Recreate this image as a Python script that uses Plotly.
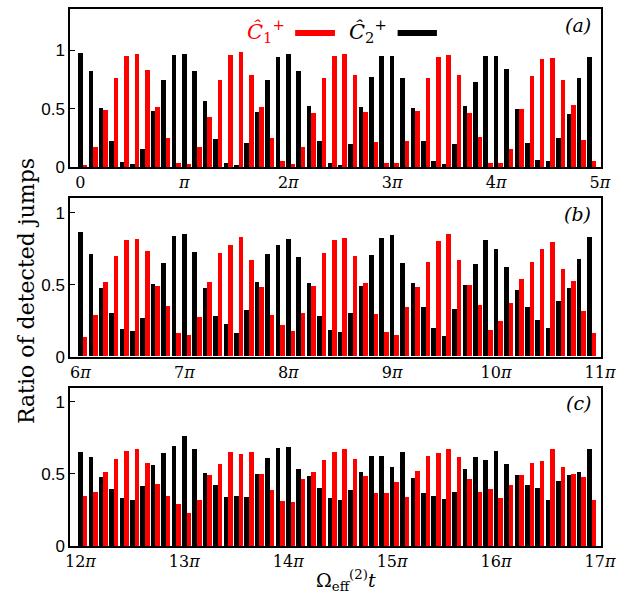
import plotly.graph_objects as go
from plotly.subplots import make_subplots

# time axis in units of pi; 50 samples per panel, step pi/10
starts = [0, 6, 12]
n_pts = 50

# panel (a)
c2_a = [0.977, 0.824, 0.504, 0.227, 0.042, 0.025, 0.159, 0.479, 0.742, 0.958,
        0.966, 0.819, 0.567, 0.244, 0.034, 0.020, 0.204, 0.476, 0.742, 0.941,
        0.963, 0.819, 0.524, 0.224, 0.037, 0.023, 0.200, 0.518, 0.770, 0.952,
        0.952, 0.762, 0.507, 0.221, 0.054, 0.028, 0.201, 0.524, 0.728, 0.952,
        0.952, 0.836, 0.496, 0.212, 0.065, 0.057, 0.249, 0.459, 0.759, 0.943]
c1_a = [0.017, 0.173, 0.493, 0.765, 0.952, 0.966, 0.833, 0.516, 0.252, 0.034,
        0.025, 0.170, 0.428, 0.748, 0.958, 0.980, 0.788, 0.516, 0.252, 0.051,
        0.028, 0.176, 0.467, 0.765, 0.952, 0.966, 0.790, 0.473, 0.218, 0.040,
        0.037, 0.227, 0.484, 0.765, 0.938, 0.958, 0.788, 0.467, 0.261, 0.040,
        0.037, 0.153, 0.496, 0.779, 0.924, 0.935, 0.742, 0.533, 0.235, 0.051]

# panel (b)
c2_b = [0.864, 0.708, 0.478, 0.301, 0.191, 0.179, 0.267, 0.503, 0.648, 0.837,
        0.848, 0.724, 0.478, 0.280, 0.225, 0.166, 0.324, 0.515, 0.710, 0.777,
        0.816, 0.690, 0.508, 0.280, 0.186, 0.170, 0.301, 0.487, 0.706, 0.825,
        0.846, 0.651, 0.513, 0.340, 0.200, 0.145, 0.331, 0.494, 0.644, 0.811,
        0.749, 0.623, 0.462, 0.343, 0.253, 0.200, 0.386, 0.474, 0.678, 0.830]
c1_b = [0.133, 0.290, 0.520, 0.694, 0.805, 0.816, 0.731, 0.492, 0.349, 0.161,
        0.147, 0.271, 0.520, 0.717, 0.772, 0.830, 0.671, 0.480, 0.287, 0.218,
        0.177, 0.303, 0.487, 0.715, 0.807, 0.823, 0.694, 0.508, 0.292, 0.170,
        0.147, 0.345, 0.483, 0.657, 0.798, 0.851, 0.667, 0.499, 0.354, 0.184,
        0.248, 0.370, 0.536, 0.655, 0.745, 0.795, 0.609, 0.524, 0.317, 0.166]

# panel (c)
c2_c = [0.654, 0.618, 0.484, 0.396, 0.336, 0.323, 0.417, 0.567, 0.652, 0.700,
        0.765, 0.675, 0.507, 0.426, 0.341, 0.353, 0.343, 0.500, 0.611, 0.682,
        0.687, 0.535, 0.486, 0.403, 0.339, 0.325, 0.392, 0.514, 0.627, 0.629,
        0.551, 0.654, 0.475, 0.369, 0.348, 0.327, 0.376, 0.535, 0.620, 0.599,
        0.661, 0.569, 0.498, 0.424, 0.408, 0.323, 0.452, 0.495, 0.518, 0.675]
c1_c = [0.348, 0.380, 0.514, 0.604, 0.661, 0.675, 0.578, 0.431, 0.348, 0.297,
        0.233, 0.323, 0.493, 0.571, 0.657, 0.645, 0.654, 0.500, 0.389, 0.316,
        0.309, 0.465, 0.514, 0.597, 0.659, 0.673, 0.606, 0.486, 0.371, 0.369,
        0.447, 0.343, 0.525, 0.631, 0.652, 0.673, 0.622, 0.465, 0.378, 0.401,
        0.336, 0.429, 0.498, 0.576, 0.592, 0.673, 0.548, 0.500, 0.482, 0.323]

c1_sets = [c1_a, c1_b, c1_c]
c2_sets = [c2_a, c2_b, c2_c]
panel_tags = ["(a)", "(b)", "(c)"]

serif = "DejaVu Serif"
sans = "Liberation Sans"
bw = 0.044
off = 0.044

fig = make_subplots(rows=3, cols=1, vertical_spacing=31 / 539)

for i in range(3):
    t = [starts[i] + k / 10 for k in range(n_pts)]
    fig.add_trace(go.Bar(x=t, y=c2_sets[i], width=bw, marker_color="black",
                         marker_line_width=0, showlegend=False), row=i + 1, col=1)
    fig.add_trace(go.Bar(x=[v + off for v in t], y=c1_sets[i], width=bw,
                         marker_color="#ff0000", marker_line_width=0,
                         showlegend=False), row=i + 1, col=1)

    s = starts[i]
    tickvals = list(range(s, s + 6))
    ticktext = []
    for v in tickvals:
        if v == 0:
            ticktext.append("0")
        elif v == 1:
            ticktext.append("<i>π</i>")
        else:
            ticktext.append(str(v) + "<i>π</i>")
    fig.update_xaxes(range=[s - 0.1, s + 5.01], tickvals=tickvals, ticktext=ticktext,
                     ticks="", showgrid=False, zeroline=False, showline=True,
                     mirror=True, linecolor="black", linewidth=1.5,
                     ticklabeloverflow="allow",
                     tickfont=dict(family=serif, size=16, color="black"),
                     row=i + 1, col=1)
    ytop = 1.35 if i == 0 else 1.1
    fig.update_yaxes(range=[0, ytop], tickvals=[0, 0.5, 1], ticktext=["0", "0.5", "1"],
                     ticks="inside", ticklen=5, tickcolor="black", showgrid=False,
                     zeroline=False, showline=True, mirror=True, linecolor="black",
                     linewidth=1.5, tickfont=dict(family=sans, size=17, color="black"),
                     row=i + 1, col=1)

    xr = "x domain" if i == 0 else "x%d domain" % (i + 1)
    yr = "y domain" if i == 0 else "y%d domain" % (i + 1)
    fig.add_annotation(text="<i>" + panel_tags[i] + "</i>", xref=xr, yref=yr,
                       x=0.985, y=0.9, xanchor="right", yanchor="middle",
                       showarrow=False, font=dict(family=serif, size=19, color="black"))

# legend drawn by hand in panel (a)
fig.add_annotation(text="<i>Ĉ</i><sub>1</sub><sup>+</sup>", xref="x domain", yref="y domain",
                   x=0.37, y=0.86, xanchor="center", yanchor="middle", showarrow=False,
                   font=dict(family=serif, size=21, color="#ff0000"))
fig.add_shape(type="line", xref="x domain", yref="y domain", x0=0.424, x1=0.499,
              y0=0.849, y1=0.849, line=dict(color="#ff0000", width=6))
fig.add_annotation(text="<i>Ĉ</i><sub>2</sub><sup>+</sup>", xref="x domain", yref="y domain",
                   x=0.562, y=0.86, xanchor="center", yanchor="middle", showarrow=False,
                   font=dict(family=serif, size=21, color="black"))
fig.add_shape(type="line", xref="x domain", yref="y domain", x0=0.617, x1=0.691,
              y0=0.849, y1=0.849, line=dict(color="black", width=6))

# axis titles
fig.add_annotation(text="Ratio of detected jumps", xref="paper", yref="paper",
                   x=-0.108, y=0.475, xanchor="left", textangle=-90, showarrow=False,
                   font=dict(family=serif, size=22, color="black"))
fig.add_annotation(text="Ω<sub>eff</sub><sup>(2)</sup><i>t</i>", xref="paper", yref="paper",
                   x=0.52, y=-0.064, yanchor="middle", showarrow=False,
                   font=dict(family=serif, size=19, color="black"))

fig.update_layout(width=623, height=595, margin=dict(l=70, r=10, t=7, b=49),
                  plot_bgcolor="white", paper_bgcolor="white", barmode="overlay",
                  bargap=0)

# drop the default page margin so the figure sits at the window's corner
fig.write_html("out.html", config={"displayModeBar": False},
               post_script="document.body.style.margin='0';")
